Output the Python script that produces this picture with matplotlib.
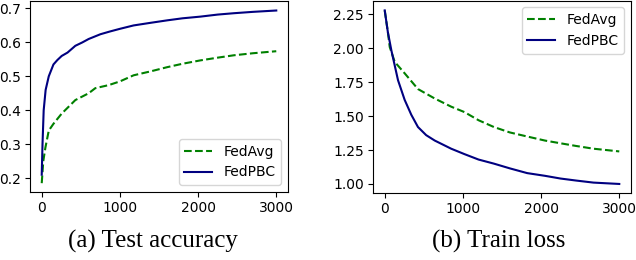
import matplotlib
matplotlib.use("Agg")
import matplotlib.pyplot as plt
from matplotlib.ticker import FormatStrFormatter

# (a) test accuracy
acc_pbc_x = [0, 10, 25, 50, 90, 150, 200, 255, 330, 430, 520, 600, 750, 870, 1000,
             1175, 1400, 1605, 1800, 2030, 2250, 2457, 2700, 3000]
acc_pbc_y = [0.21, 0.30, 0.40, 0.46, 0.50, 0.535, 0.548, 0.56, 0.57, 0.59, 0.60,
             0.61, 0.624, 0.632, 0.64, 0.65, 0.658, 0.665, 0.671, 0.676, 0.682,
             0.686, 0.69, 0.694]
acc_avg_x = [0, 20, 47, 90, 150, 255, 430, 600, 685, 855, 1000, 1175, 1400, 1605,
             1800, 2030, 2250, 2457, 2700, 3000]
acc_avg_y = [0.185, 0.25, 0.29, 0.34, 0.36, 0.39, 0.43, 0.45, 0.465, 0.474, 0.485,
             0.503, 0.515, 0.527, 0.537, 0.547, 0.555, 0.562, 0.568, 0.574]

# (b) train loss
loss_pbc_x = [0, 40, 85, 170, 255, 340, 425, 530, 640, 850, 1020, 1200, 1396,
              1600, 1822, 2050, 2248, 2450, 2670, 3000]
loss_pbc_y = [2.28, 2.12, 1.985, 1.765, 1.62, 1.51, 1.42, 1.36, 1.32, 1.26, 1.22,
              1.18, 1.15, 1.115, 1.08, 1.06, 1.04, 1.025, 1.01, 1.00]
loss_avg_x = [0, 40, 64, 128, 255, 425, 640, 850, 1020, 1200, 1396, 1600, 1822,
              2050, 2248, 2450, 2670, 3000]
loss_avg_y = [2.28, 2.12, 2.01, 1.90, 1.816, 1.70, 1.63, 1.57, 1.53, 1.47, 1.42,
              1.38, 1.35, 1.32, 1.30, 1.28, 1.26, 1.24]

fig = plt.figure(figsize=(6.36, 2.6), dpi=100)
ax1 = fig.add_axes([30 / 636, 1 - 192 / 260, 258 / 636, 191.5 / 260])
ax2 = fig.add_axes([373 / 636, 1 - 192.5 / 260, 258 / 636, 192 / 260])

ax1.plot(acc_avg_x, acc_avg_y, color="green", linestyle="--", lw=1.5, label="FedAvg")
ax1.plot(acc_pbc_x, acc_pbc_y, color="navy", lw=1.5, label="FedPBC")
ax1.set_ylim(0.159, 0.7235)
ax1.set_yticks([0.2, 0.3, 0.4, 0.5, 0.6, 0.7])
ax1.legend(loc="lower right", fontsize=10)

ax2.plot(loss_avg_x, loss_avg_y, color="green", linestyle="--", lw=1.5, label="FedAvg")
ax2.plot(loss_pbc_x, loss_pbc_y, color="navy", lw=1.5, label="FedPBC")
ax2.set_ylim(0.937, 2.353)
ax2.set_yticks([1.0, 1.25, 1.5, 1.75, 2.0, 2.25])
ax2.yaxis.set_major_formatter(FormatStrFormatter("%.2f"))
ax2.legend(loc="upper right", fontsize=10)

for ax in (ax1, ax2):
    ax.set_xticks([0, 1000, 2000, 3000])
    ax.tick_params(labelsize=10, length=3.5, pad=3)

fig.text(153 / 636, 1 - 248 / 260, "(a) Test accuracy", ha="center", va="baseline",
         family="Liberation Serif", fontsize=18)
fig.text(499 / 636, 1 - 248 / 260, "(b) Train loss", ha="center", va="baseline",
         family="Liberation Serif", fontsize=18)

fig.savefig("out.png", dpi=100)
